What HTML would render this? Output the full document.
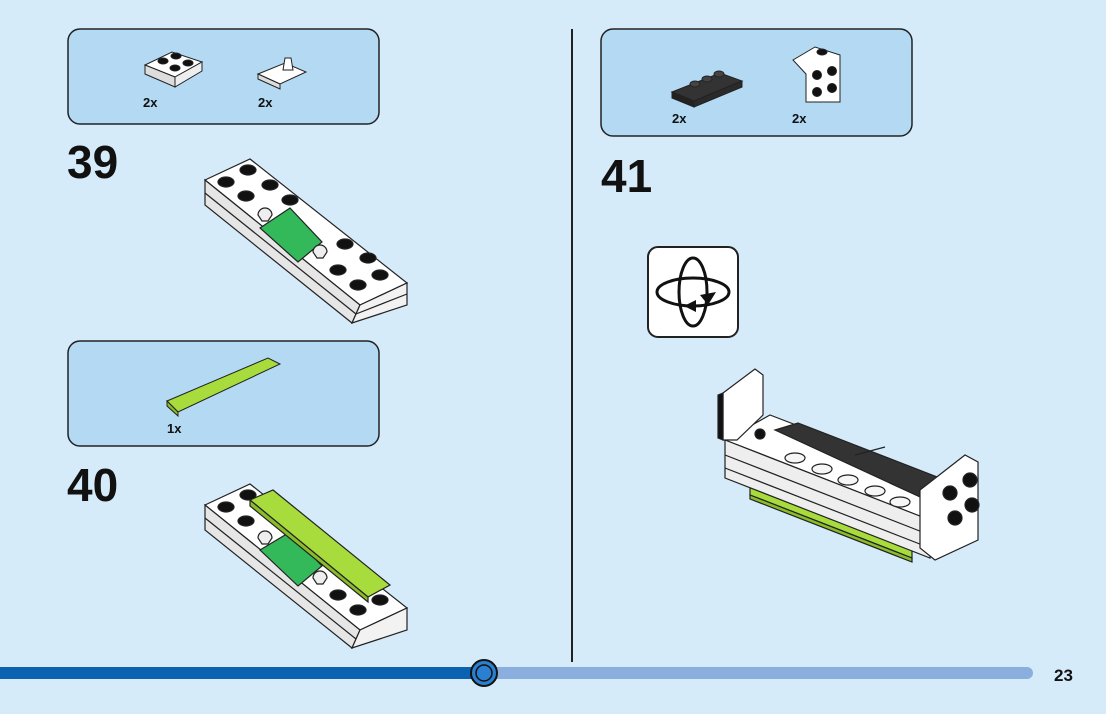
<!DOCTYPE html>
<html><head><style>
html,body{margin:0;padding:0;background:#d5ebfa;}
body{width:1106px;height:709px;overflow:hidden;font-family:"Liberation Sans",sans-serif;}
</style></head><body>
<svg width="1106" height="709" viewBox="0 0 1106 709" xmlns="http://www.w3.org/2000/svg">
<rect width="1106" height="709" fill="#d5ebfa"/>
<rect x="68" y="29" width="311" height="95" rx="12" fill="#b4d9f3" stroke="#222" stroke-width="1.5"/>
<rect x="68" y="341" width="311" height="105" rx="12" fill="#b4d9f3" stroke="#222" stroke-width="1.5"/>
<rect x="601" y="29" width="311" height="107" rx="12" fill="#b4d9f3" stroke="#222" stroke-width="1.5"/>
<line x1="572" y1="29" x2="572" y2="662" stroke="#222" stroke-width="2"/>
<g stroke="#222" stroke-width="1">
<polygon points="145,65 172,52 202,62 175,77" fill="#fff"/>
<polygon points="145,65 175,77 175,87 145,74" fill="#ddd"/>
<polygon points="175,77 202,62 202,71 175,87" fill="#eee"/>
<ellipse cx="163" cy="61" rx="5" ry="3" fill="#111"/><ellipse cx="176" cy="56" rx="5" ry="3" fill="#111"/>
<ellipse cx="175" cy="68" rx="5" ry="3" fill="#111"/><ellipse cx="188" cy="63" rx="5" ry="3" fill="#111"/>
<polygon points="258,74 285,63 306,72 280,84" fill="#fff"/>
<polygon points="258,74 280,84 280,89 258,79" fill="#ddd"/>
<path d="M283,70 l2,-12 l6,0 l2,12 z" fill="#fff"/>
<polygon points="167,401 268,358 280,364 178,412" fill="#a8dc3c"/>
<polygon points="167,401 178,412 178,416 167,406" fill="#8bbd2a"/>
<polygon points="672,92 720,73 742,81 694,101" fill="#333"/>
<polygon points="672,92 694,101 694,107 672,98" fill="#222"/>
<polygon points="694,101 742,81 742,87 694,107" fill="#2a2a2a"/>
<ellipse cx="695" cy="84" rx="5" ry="3" fill="#444"/><ellipse cx="707" cy="79" rx="5" ry="3" fill="#444"/><ellipse cx="719" cy="74" rx="5" ry="3" fill="#444"/>
<polygon points="793,60 815,47 840,55 840,102 806,102 806,74" fill="#fff"/>
<circle cx="817" cy="75" r="4.5" fill="#111"/><circle cx="832" cy="71" r="4.5" fill="#111"/>
<circle cx="817" cy="92" r="4.5" fill="#111"/><circle cx="832" cy="88" r="4.5" fill="#111"/>
<ellipse cx="822" cy="52" rx="5" ry="3" fill="#111"/>
</g>
<g font-weight="bold" font-size="13" fill="#111">
<text x="143" y="107">2x</text><text x="258" y="107">2x</text>
<text x="167" y="433">1x</text>
<text x="672" y="123">2x</text><text x="792" y="123">2x</text>
</g>
<g font-weight="bold" font-size="46" fill="#111">
<text x="67" y="178">39</text><text x="67" y="501">40</text><text x="601" y="192">41</text>
</g>
<g stroke="#222" stroke-width="1.2">
<polygon points="205,180 250,159 407,283 360,305" fill="#fff"/>
<polygon points="205,180 360,305 352,323 205,205" fill="#e6e6e6"/>
<polygon points="360,305 407,283 407,305 352,323" fill="#f2f2f2"/>
<line x1="205" y1="193" x2="356" y2="314"/><line x1="356" y1="314" x2="407" y2="294"/>
<polygon points="260,228 290,208 322,242 298,262" fill="#33b85a"/>
<g fill="#111">
<ellipse cx="226" cy="182" rx="8" ry="5"/><ellipse cx="248" cy="170" rx="8" ry="5"/>
<ellipse cx="246" cy="196" rx="8" ry="5"/><ellipse cx="270" cy="185" rx="8" ry="5"/>
<ellipse cx="290" cy="200" rx="8" ry="5"/><ellipse cx="345" cy="244" rx="8" ry="5"/>
<ellipse cx="368" cy="258" rx="8" ry="5"/><ellipse cx="338" cy="270" rx="8" ry="5"/>
<ellipse cx="380" cy="275" rx="8" ry="5"/><ellipse cx="358" cy="285" rx="8" ry="5"/>
</g>
<path d="M258,215 a7,7 0 1 1 14,0 l-4,6 h-6 z" fill="#eee"/>
<path d="M313,252 a7,7 0 1 1 14,0 l-4,6 h-6 z" fill="#eee"/>
</g>
<g stroke="#222" stroke-width="1.2">
<polygon points="205,505 250,484 407,608 360,630" fill="#fff"/>
<polygon points="205,505 360,630 352,648 205,530" fill="#e6e6e6"/>
<polygon points="360,630 407,608 407,630 352,648" fill="#f2f2f2"/>
<line x1="205" y1="518" x2="356" y2="639"/>
<polygon points="260,550 290,532 322,566 298,586" fill="#33b85a"/>
<g fill="#111">
<ellipse cx="226" cy="507" rx="8" ry="5"/><ellipse cx="248" cy="495" rx="8" ry="5"/>
<ellipse cx="246" cy="521" rx="8" ry="5"/><ellipse cx="338" cy="595" rx="8" ry="5"/>
<ellipse cx="380" cy="600" rx="8" ry="5"/><ellipse cx="358" cy="610" rx="8" ry="5"/>
</g>
<polygon points="250,500 273,490 390,585 368,597" fill="#a8dc3c"/>
<polygon points="250,500 368,597 368,602 250,506" fill="#8bbd2a"/>
<path d="M258,538 a7,7 0 1 1 14,0 l-4,6 h-6 z" fill="#eee"/>
<path d="M313,578 a7,7 0 1 1 14,0 l-4,6 h-6 z" fill="#eee"/>
</g>
<rect x="648" y="247" width="90" height="90" rx="10" fill="#fff" stroke="#222" stroke-width="2"/>
<g fill="none" stroke="#111" stroke-width="3">
<ellipse cx="693" cy="292" rx="36" ry="14"/>
<ellipse cx="693" cy="292" rx="14" ry="34"/>
</g>
<polygon points="700,295 716,292 708,305" fill="#111"/>
<polygon points="684,306 696,300 696,312" fill="#111"/>
<g stroke="#222" stroke-width="1.2">
<polygon points="750,482 912,545 912,558 750,495" fill="#a8dc3c"/>
<polygon points="750,495 912,558 912,562 750,499" fill="#8bbd2a"/>
<polygon points="725,440 770,415 965,490 930,520" fill="#fff"/>
<polygon points="725,440 930,520 930,558 725,478" fill="#eee"/>
<line x1="725" y1="455" x2="930" y2="535"/><line x1="725" y1="468" x2="930" y2="548"/>
<polygon points="723,393 755,369 763,375 763,415 737,440 723,440" fill="#fff"/>
<polygon points="718,395 723,393 723,440 718,438" fill="#111"/>
<polygon points="775,430 798,423 945,480 920,497" fill="#333"/>
<line x1="855" y1="455" x2="885" y2="447"/>
<polygon points="920,490 965,455 978,462 978,540 935,560 920,548" fill="#fff"/>
<g fill="#111">
<circle cx="950" cy="493" r="7"/><circle cx="970" cy="480" r="7"/>
<circle cx="955" cy="518" r="7"/><circle cx="972" cy="505" r="7"/>
<circle cx="760" cy="434" r="5"/>
</g>
<g fill="#f6f6f6">
<ellipse cx="795" cy="458" rx="10" ry="5"/><ellipse cx="822" cy="469" rx="10" ry="5"/>
<ellipse cx="848" cy="480" rx="10" ry="5"/><ellipse cx="875" cy="491" rx="10" ry="5"/>
<ellipse cx="900" cy="502" rx="10" ry="5"/>
</g>
</g>
<rect x="0" y="667" width="1033" height="12" rx="6" fill="#8aaede"/>
<rect x="0" y="667" width="484" height="12" fill="#0a62b0"/>
<circle cx="484" cy="673" r="13" fill="#2a7fd0" stroke="#111" stroke-width="2"/>
<circle cx="484" cy="673" r="8" fill="none" stroke="#111" stroke-width="1.5"/>
<text x="1054" y="681" font-size="17" font-weight="bold" fill="#111">23</text>
</svg>
</body></html>
